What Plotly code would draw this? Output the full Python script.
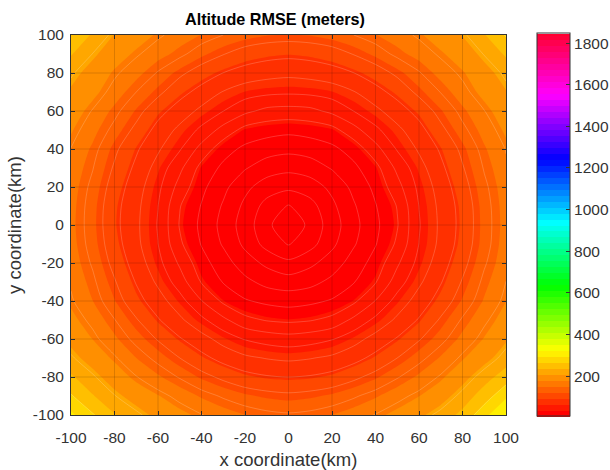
import math
import plotly.graph_objects as go

x_km = list(range(-100, 101, 10))
y_km = list(range(-100, 101, 10))
rmse = [
    [300, 268, 238, 218, 200, 186, 172, 160, 150, 143, 140, 143, 150, 160, 172, 186, 202, 220, 244, 285, 325],
    [268, 238, 214, 196, 180, 163, 147, 134, 124, 118, 115, 118, 124, 134, 147, 163, 178, 196, 220, 250, 288],
    [240, 216, 194, 172, 153, 135, 118, 105, 95, 90, 88, 90, 95, 105, 118, 135, 154, 174, 198, 224, 250],
    [216, 196, 174, 150, 130, 110, 94, 82, 74, 70, 68, 70, 74, 82, 94, 110, 130, 152, 176, 198, 222],
    [200, 178, 154, 130, 108, 90, 77, 65, 56, 52, 50, 52, 56, 65, 77, 90, 108, 130, 156, 180, 204],
    [186, 164, 138, 112, 90, 74, 60, 48, 39, 36, 35, 36, 39, 48, 60, 74, 90, 113, 140, 166, 190],
    [174, 150, 122, 96, 78, 62, 46, 35, 30, 28, 27, 28, 30, 35, 46, 62, 78, 97, 123, 152, 178],
    [168, 142, 112, 87, 68, 51, 36, 29, 25, 22, 21, 22, 25, 29, 36, 51, 68, 87, 112, 143, 171],
    [162, 134, 103, 80, 61, 44, 32, 26, 21, 18, 16, 18, 21, 26, 32, 44, 61, 80, 103, 134, 164],
    [158, 128, 97, 75, 57, 38, 29, 23, 18, 14, 12, 14, 18, 23, 29, 38, 57, 75, 97, 128, 160],
    [156, 126, 94, 74, 56, 36, 28, 22, 17, 13, 10, 13, 17, 22, 28, 36, 56, 74, 95, 127, 158],
    [157, 127, 95, 75, 57, 37, 29, 23, 18, 14, 12, 14, 18, 23, 29, 37, 57, 75, 96, 128, 159],
    [160, 131, 100, 78, 60, 42, 31, 25, 20, 17, 16, 17, 20, 25, 31, 42, 60, 78, 101, 132, 162],
    [165, 138, 107, 84, 65, 48, 34, 28, 24, 21, 20, 21, 24, 28, 34, 48, 65, 84, 108, 139, 167],
    [170, 146, 115, 91, 73, 58, 42, 32, 28, 26, 25, 26, 28, 32, 42, 58, 73, 91, 116, 147, 172],
    [181, 157, 130, 104, 82, 67, 54, 42, 34, 32, 31, 32, 34, 42, 54, 67, 82, 104, 131, 158, 183],
    [193, 169, 144, 119, 95, 80, 67, 57, 48, 43, 42, 43, 48, 57, 67, 80, 95, 119, 145, 170, 195],
    [204, 186, 162, 137, 116, 95, 82, 70, 63, 60, 59, 60, 63, 70, 82, 95, 116, 138, 163, 187, 206],
    [216, 197, 175, 157, 135, 115, 99, 88, 81, 77, 75, 77, 81, 88, 99, 115, 135, 158, 176, 198, 218],
    [238, 212, 192, 174, 158, 143, 125, 111, 100, 95, 93, 95, 100, 111, 125, 143, 158, 175, 193, 214, 240],
    [262, 232, 206, 192, 175, 161, 149, 137, 128, 122, 120, 122, 128, 137, 149, 161, 175, 193, 208, 234, 268],
]
axis_ticks = [-100, -80, -60, -40, -20, 0, 20, 40, 60, 80, 100]
axis_labels = ["-100", "-80", "-60", "-40", "-20", "0", "20", "40", "60", "80", "100"]
colorbar_ticks = [200, 400, 600, 800, 1000, 1200, 1400, 1600, 1800]
z_start, z_end, band = 6, 1846, 28.75

# first band (its midpoint) must come out pure red, as in the reference
shift = (band / 2) / (z_end - z_start)
hsv = [[0, "#ff0000"], [shift, "#ff0000"], [1/6 + shift, "#ffff00"], [2/6 + shift, "#00ff00"],
       [3/6 + shift, "#00ffff"], [4/6 + shift, "#0000ff"], [5/6 + shift, "#ff00ff"], [1, "#ff0030"]]
INK = "#333333"
FONT = "Liberation Sans, Arial, sans-serif"

fig = go.Figure(go.Contour(
    x=x_km, y=y_km, z=rmse, zmin=z_start, zmax=z_end, colorscale=hsv,
    autocontour=False,
    contours=dict(start=z_start, end=z_end, size=band, coloring="fill", showlines=False),
    line=dict(width=0, smoothing=0.6),
    colorbar=dict(
        thickness=33, thicknessmode="pixels", len=1.008, lenmode="fraction",
        xref="container", x=537/610, xanchor="left", y=0.5, yanchor="middle", xpad=0, ypad=0,
        tickmode="array", tickvals=colorbar_ticks, ticks="inside", ticklen=4,
        tickcolor=INK, tickwidth=1, outlinecolor=INK, outlinewidth=1,
        tickfont=dict(family=FONT, size=15.5, color=INK),
    ),
    hoverinfo="skip",
))

# faint white mesh rings: contour lines of the same readings on a log scale
fig.add_trace(go.Contour(
    x=x_km, y=y_km, z=[[math.log(v) for v in row] for row in rmse],
    autocontour=False, showscale=False,
    contours=dict(start=2.5, end=6.0, size=0.22, coloring="none", showlines=True),
    line=dict(color="rgba(255,255,255,0.28)", width=0.7, smoothing=0.8),
    hoverinfo="skip",
))

for t in axis_ticks[1:-1]:
    fig.add_vline(x=t, line=dict(color="rgba(0,0,0,0.14)", width=1), layer="above")
    fig.add_hline(y=t, line=dict(color="rgba(0,0,0,0.14)", width=1), layer="above")

axis_common = dict(
    range=[-100, 100], tickmode="array", tickvals=axis_ticks, ticktext=axis_labels,
    ticks="inside", ticklen=4, tickcolor=INK, tickwidth=1, showline=True, linecolor=INK,
    linewidth=1, mirror="allticks", showgrid=False, zeroline=False, automargin=False,
    tickfont=dict(family=FONT, size=15.5, color=INK),
)
fig.update_xaxes(ticklabelstandoff=8,
                 title=dict(text="x coordinate(km)", standoff=8,
                            font=dict(family=FONT, size=18.5, color=INK)), **axis_common)
fig.update_yaxes(ticklabelstandoff=3,
                 title=dict(text="y coordinate(km)", standoff=6,
                            font=dict(family=FONT, size=18.5, color=INK)), **axis_common)
fig.update_layout(
    width=610, height=470, autosize=False,
    margin=dict(l=71, r=104, t=35, b=55, pad=0),
    paper_bgcolor="white", plot_bgcolor="white",
    title=dict(text="<b>Altitude RMSE (meters)</b>", x=275/610, xanchor="center", y=1-19/470,
               yanchor="middle", font=dict(family=FONT, size=16.2, color="black")),
)
fig.write_html("out.html", config={"displayModeBar": False},
               post_script="document.body.style.margin='0';")
